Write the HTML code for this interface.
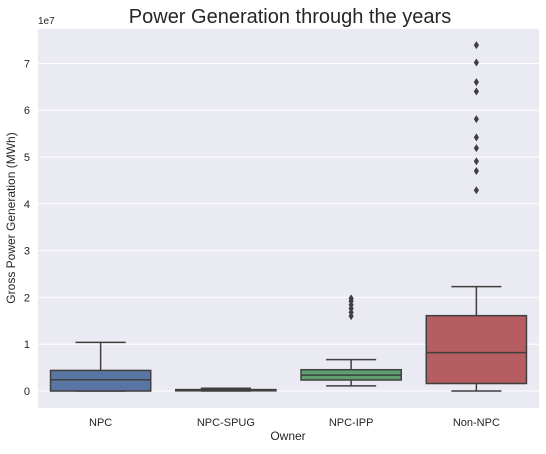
<!DOCTYPE html>
<html><head><meta charset="utf-8"><style>
body{margin:0;background:#fff;}
svg text{font-family:"Liberation Sans",sans-serif;}
</style></head><body>
<svg width="546" height="449" xmlns="http://www.w3.org/2000/svg">
<rect x="0" y="0" width="546" height="449" fill="#fff"/>
<rect x="38" y="29" width="501" height="379" fill="#eaeaf2"/>
<g id="grid"></g>
<g id="marks"></g>
<g id="ticks"></g>
<text x="290" y="23" text-anchor="middle" font-size="20" fill="#262626">Power Generation through the years</text>
<text x="38" y="24" font-size="10" fill="#262626">1e7</text>
<text x="288" y="440" text-anchor="middle" font-size="12" fill="#262626">Owner</text>
<text transform="translate(15,218) rotate(-90)" text-anchor="middle" font-size="12" fill="#262626">Gross Power Generation (MWh)</text>
</svg>
<script>
const categories=["NPC","NPC-SPUG","NPC-IPP","Non-NPC"];
const whiskerLow=[0,0,0.11,0.0];
const q1=[0.0,0.005,0.235,0.16];
const median=[0.24,0.015,0.34,0.82];
const q3=[0.44,0.03,0.455,1.61];
const whiskerHigh=[1.04,0.06,0.67,2.23];
const outliers=[[],[],[1.98,1.92,1.84,1.76,1.68,1.6],[7.39,7.02,6.60,6.40,5.81,5.42,5.19,4.91,4.70,4.29]];
const yTicks=[0,1,2,3,4,5,6,7];
const colors=["#5875a4","#cc8963","#5f9e6e","#b55d60"];
const NS="http://www.w3.org/2000/svg";
const L=38,R=539,T=29,B=408,yMin=-0.363,yMax=7.735;
const y=v=>B-(v-yMin)/(yMax-yMin)*(B-T);
const band=(R-L)/categories.length;
const xc=i=>L+band*(i+0.5);
function mk(tag,attrs,parent){const e=document.createElementNS(NS,tag);for(const k in attrs)e.setAttribute(k,attrs[k]);parent.appendChild(e);return e;}
const grid=document.getElementById('grid'),marks=document.getElementById('marks'),ticks=document.getElementById('ticks');
yTicks.forEach(t=>{
  const g=mk('line',{x1:L,x2:R,y1:y(t),y2:y(t),stroke:'#fff','stroke-width':1},grid);
  
  
  const tx=mk('text',{x:30,y:y(t)+4,'text-anchor':'end','font-size':11,fill:'#262626'},ticks);
  tx.textContent=t;
  
  
});
const lc='#3f3f3f',bw=band*0.8;
categories.forEach((c,i)=>{
  const x=xc(i);
  const g=mk('g',{},marks);
  
  
  mk('line',{x1:x,x2:x,y1:y(whiskerLow[i]),y2:y(q1[i]),stroke:lc,'stroke-width':1.5},g);
  mk('line',{x1:x,x2:x,y1:y(q3[i]),y2:y(whiskerHigh[i]),stroke:lc,'stroke-width':1.5},g);
  mk('line',{x1:x-bw/4,x2:x+bw/4,y1:y(whiskerLow[i]),y2:y(whiskerLow[i]),stroke:lc,'stroke-width':1.5},g);
  mk('line',{x1:x-bw/4,x2:x+bw/4,y1:y(whiskerHigh[i]),y2:y(whiskerHigh[i]),stroke:lc,'stroke-width':1.5},g);
  mk('rect',{x:x-bw/2,y:y(q3[i]),width:bw,height:Math.max(0.5,y(q1[i])-y(q3[i])),fill:colors[i],stroke:lc,'stroke-width':1.5},g);
  mk('line',{x1:x-bw/2,x2:x+bw/2,y1:y(median[i]),y2:y(median[i]),stroke:lc,'stroke-width':1.5},g);
  outliers[i].forEach(v=>{
    const yy=y(v);
    const d=mk('path',{d:`M${x},${yy-4} L${x+2.6},${yy} L${x},${yy+4} L${x-2.6},${yy} Z`,fill:lc},g);
    
    
  });
  const tx=mk('text',{x:x,y:426,'text-anchor':'middle','font-size':11,fill:'#262626'},ticks);
  tx.textContent=c;
  
  
});
</script>
</body></html>
